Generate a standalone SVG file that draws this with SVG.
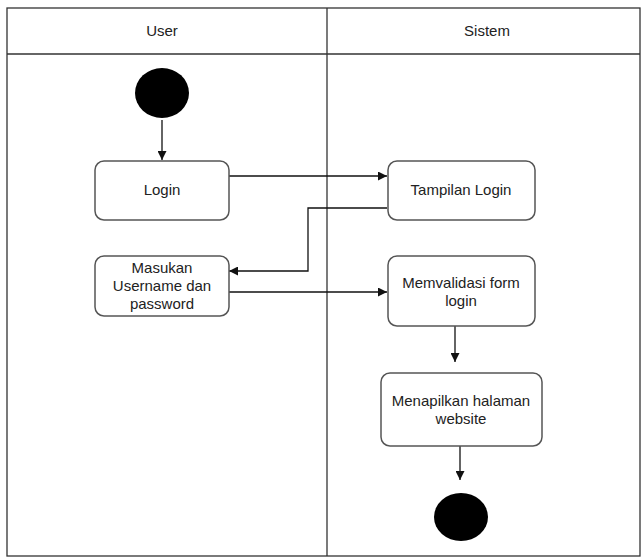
<svg xmlns="http://www.w3.org/2000/svg" width="641" height="558" viewBox="0 0 641 558">
<style>
text{font-family:"Liberation Sans",Arial,sans-serif;font-size:15px;fill:#222;text-anchor:middle}
.box{fill:#fff;stroke:#555;stroke-width:1.5}
.lane{fill:none;stroke:#333;stroke-width:1.3}
.c{fill:none;stroke:#111;stroke-width:1.3}
</style>
<defs>
<marker id="ah" viewBox="0 0 10 10" refX="10" refY="5" markerWidth="9" markerHeight="9" markerUnits="userSpaceOnUse" orient="auto">
<path d="M0,0 L10,5 L0,10 Z" fill="#111"/>
</marker>
</defs>
<rect width="641" height="558" fill="#fff"/>
<g id="swimlanes">
<rect class="lane" x="7" y="8" width="633" height="548"/>
<line class="lane" x1="7" y1="54" x2="640" y2="54"/>
<line class="lane" x1="327" y1="8" x2="327" y2="556"/>
<text x="162" y="36">User</text>
<text x="487" y="36">Sistem</text>
</g>
<g id="connectors">
<line class="c" x1="162" y1="120" x2="162" y2="160" marker-end="url(#ah)"/>
<line class="c" x1="229" y1="176" x2="387" y2="176" marker-end="url(#ah)"/>
<polyline class="c" points="387,208 308,208 308,271 229,271" marker-end="url(#ah)"/>
<line class="c" x1="229" y1="292" x2="387" y2="292" marker-end="url(#ah)"/>
<line class="c" x1="455" y1="326" x2="455" y2="362" marker-end="url(#ah)"/>
<line class="c" x1="460" y1="446" x2="460" y2="480" marker-end="url(#ah)"/>
</g>
<g id="start"><ellipse cx="162" cy="93" rx="27" ry="25" fill="#000"/></g>
<g id="login">
<rect class="box" x="95" y="161" width="134" height="59" rx="9"/>
<text x="162" y="195">Login</text>
</g>
<g id="tampilan-login">
<rect class="box" x="388" y="161" width="147" height="59" rx="9"/>
<text x="461" y="195">Tampilan Login</text>
</g>
<g id="masukan">
<rect class="box" x="95" y="256" width="134" height="60" rx="9"/>
<text x="162" y="273">Masukan</text>
<text x="162" y="291">Username dan</text>
<text x="162" y="309">password</text>
</g>
<g id="memvalidasi">
<rect class="box" x="388" y="256" width="147" height="70" rx="9"/>
<text x="461" y="288">Memvalidasi form</text>
<text x="461" y="306">login</text>
</g>
<g id="menapilkan">
<rect class="box" x="381" y="373" width="161" height="73" rx="9"/>
<text x="461" y="406">Menapilkan halaman</text>
<text x="461" y="424">website</text>
</g>
<g id="end"><ellipse cx="461" cy="517" rx="27" ry="24" fill="#000"/></g>
</svg>
